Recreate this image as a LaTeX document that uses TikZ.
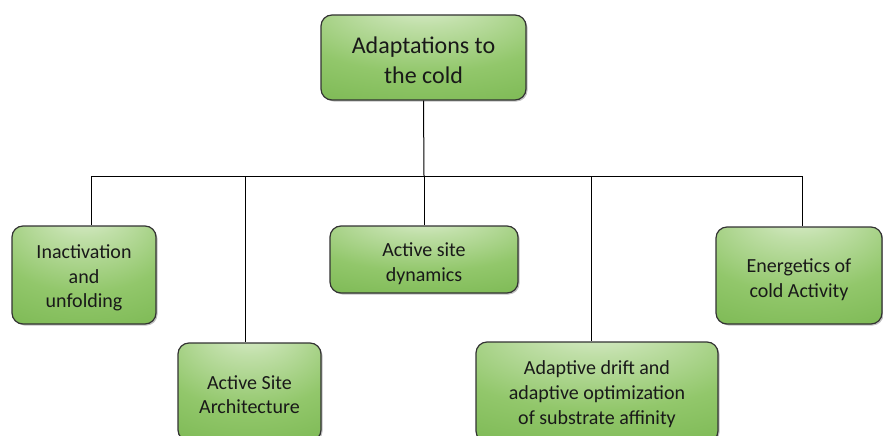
\documentclass[tikz,border=0pt]{standalone}
\usepackage{fontspec}
\setmainfont{Carlito}
\usetikzlibrary{shadows}

% greens for the glossy box fill
\definecolor{glowA}{HTML}{E8F3DF}
\definecolor{glowB}{HTML}{C0DFA8}
\definecolor{glowC}{HTML}{92C76B}
\definecolor{glowD}{HTML}{78B64F}
\definecolor{glowE}{HTML}{66A63E}
\definecolor{boxline}{HTML}{333333}

% radial glow centred near the top edge of each box
\pgfdeclareradialshading{greenglow}{\pgfpoint{0bp}{38bp}}{%
  color(0bp)=(glowA); color(14bp)=(glowB); color(34bp)=(glowC);
  color(56bp)=(glowD); color(100bp)=(glowE)}

% invisible strut that pushes the text block a little lower in its box
\newcommand{\lowertext}[1]{\rule{0pt}{#1}}

\tikzset{
  gbox/.style={draw=boxline, line width=1.2pt, rounded corners=11pt,
    shading=greenglow, align=center, inner sep=0pt,
    drop shadow={shadow xshift=1.5pt, shadow yshift=-1.5pt, opacity=0.35, fill=black!70},
    font=\fontsize{20}{24.5}\selectfont, text=black!90},
  link/.style={draw=black, line width=1pt}
}

\begin{document}
\begin{tikzpicture}[x=1pt, y=-1pt]
  \useasboundingbox (0,0) rectangle (883,436);

  % root
  \node[gbox, minimum width=205pt, minimum height=85pt,
        font=\fontsize{24}{29.5}\selectfont] (root) at (423.5,57.5)
        {\lowertext{22pt}Adaptations to\\the cold};

  % children
  \node[gbox, minimum width=144pt, minimum height=98pt] (inact) at (84,275)
        {\lowertext{20pt}Inactivation\\and\\unfolding};
  \node[gbox, minimum width=143pt, minimum height=98pt] (arch) at (249.5,392)
        {\lowertext{19pt}Active Site\\Architecture};
  \node[gbox, minimum width=188pt, minimum height=67pt] (dyn) at (424,259.5)
        {\lowertext{22pt}Active site\\dynamics};
  \node[gbox, minimum width=242pt, minimum height=100pt] (drift) at (597,392)
        {\lowertext{18pt}Adaptive drift and\\[0.6pt]adaptive optimization\\[0.6pt]of substrate affinity};
  \node[gbox, minimum width=166pt, minimum height=97pt] (ener) at (799,275.5)
        {\lowertext{22pt}Energetics of\\cold Activity};

  % junctions on the bus line
  \coordinate (j1) at (91,176);
  \coordinate (j2) at (245,176);
  \coordinate (j3) at (424,176);
  \coordinate (j4) at (591,176);
  \coordinate (j5) at (802,176);

  % tree connectors
  \draw[link] (root.south) -- (j3);
  \draw[link] (j1) -- (j5);
  \draw[link] (j1) -- (j1 |- inact.north);
  \draw[link] (j2) -- (j2 |- arch.north);
  \draw[link] (j3) -- (dyn.north);
  \draw[link] (j4) -- (j4 |- drift.north);
  \draw[link] (j5) -- (j5 |- ener.north);
\end{tikzpicture}
\end{document}
